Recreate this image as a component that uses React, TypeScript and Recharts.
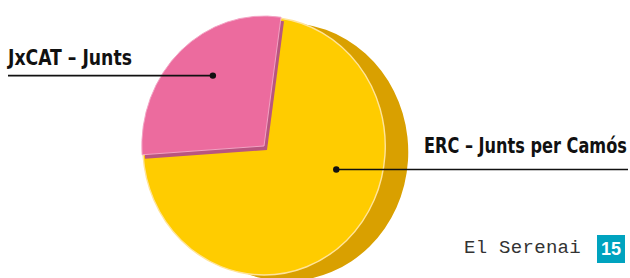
import { PieChart, Pie, Cell, Sector } from 'recharts';

// vote share (pink slice ~102 degrees)
const parties = ['JxCAT – Junts', 'ERC – Junts per Camós'];
const shares = [28.3, 71.7];

const frontColors = ['#EC6B9E', '#FFCC00'];
const depthColors = ['#B9557F', '#D9A000'];
const edgeColors = ['#F3A3C4', '#FFE49A'];

const data = parties.map((name, i) => ({ name, value: shares[i] }));

// where the callout dot sits (relative to the pie centre) and where the text goes
const callouts = [
  { angle: 126, dist: 87, lineTo: 8, textX: 8, textY: 65, textW: 124 },
  { angle: -18, dist: 76, lineTo: 628, textX: 424, textY: 153, textW: 203 },
];

const RAD = Math.PI / 180;
const labelFont = '"Liberation Sans Narrow", "DejaVu Sans Condensed", "Liberation Sans", sans-serif';
const LABEL_SIZE = 22;

const CX = 264;
const CY = 146;
const R = 129;
const SQUASH = 0.94; // disc is seen slightly from the side: a bit narrower than tall

let measureCtx: CanvasRenderingContext2D | null = null;
function textWidth(s: string) {
  if (!measureCtx) measureCtx = document.createElement('canvas').getContext('2d');
  if (!measureCtx) return s.length * LABEL_SIZE * 0.5;
  measureCtx.font = `700 ${LABEL_SIZE}px ${labelFont}`;
  return measureCtx.measureText(s).width;
}

function OvalSector(props: any) {
  const { cx, cy } = props;
  return (
    <g transform={`translate(${cx} ${cy}) scale(${SQUASH} 1) translate(${-cx} ${-cy})`}>
      <Sector {...props} />
    </g>
  );
}

function renderCallout(props: any) {
  const { cx, cy, index } = props;
  const c = callouts[index];
  const dx = cx + c.dist * Math.cos(c.angle * RAD);
  const dy = cy - c.dist * Math.sin(c.angle * RAD);
  const sx = c.textW / textWidth(parties[index]);
  return (
    <g key={`callout-${index}`}>
      <line x1={dx} y1={dy} x2={c.lineTo} y2={dy} stroke="#111" strokeWidth={1.6} />
      <circle cx={dx} cy={dy} r={3.2} fill="#111" />
      <text
        transform={`translate(${c.textX} ${c.textY}) scale(${sx} 1)`}
        fontFamily={labelFont}
        fontWeight={700}
        fontSize={LABEL_SIZE}
        fill="#111"
      >
        {parties[index]}
      </text>
    </g>
  );
}

export default function App() {
  return (
    <div style={{ position: 'absolute', left: 0, top: 0, width: 630, height: 278, background: '#fff' }}>
      <PieChart width={630} height={278} margin={{ top: 0, right: 0, bottom: 0, left: 0 }}>
        {/* extruded side of the disc */}
        <Pie data={data} dataKey="value" cx={CX + 23} cy={CY + 6} outerRadius={R} startAngle={82} endAngle={442}
          stroke="none" isAnimationActive={false} shape={OvalSector}>
          {data.map((d, i) => <Cell key={d.name} fill={i === 1 ? depthColors[1] : 'transparent'} />)}
        </Pie>
        {/* yellow top face */}
        <Pie data={data} dataKey="value" cx={CX} cy={CY} outerRadius={R} startAngle={82} endAngle={442}
          stroke="none" isAnimationActive={false} shape={OvalSector}>
          {data.map((d, i) => (
            <Cell key={d.name} fill={i === 1 ? frontColors[1] : 'transparent'}
              stroke={i === 1 ? edgeColors[1] : 'none'} strokeWidth={1.5} />
          ))}
        </Pie>
        {/* thin side of the pink wedge */}
        <Pie data={data} dataKey="value" cx={CX + 3} cy={CY + 4} outerRadius={R + 1} startAngle={82} endAngle={442}
          stroke="none" isAnimationActive={false} shape={OvalSector}>
          {data.map((d, i) => <Cell key={d.name} fill={i === 0 ? depthColors[0] : 'transparent'} />)}
        </Pie>
        {/* pink top face + callouts */}
        <Pie data={data} dataKey="value" cx={CX} cy={CY} outerRadius={R + 1} startAngle={82} endAngle={442}
          stroke="none" isAnimationActive={false} shape={OvalSector} labelLine={false} label={renderCallout}>
          {data.map((d, i) => (
            <Cell key={d.name} fill={i === 0 ? frontColors[0] : 'transparent'}
              stroke={i === 0 ? edgeColors[0] : 'none'} strokeWidth={1} />
          ))}
        </Pie>
      </PieChart>
      <div style={{ position: 'absolute', left: 464, top: 236, fontFamily: '"Liberation Mono", "DejaVu Sans Mono", monospace',
        fontSize: 19, color: '#333', letterSpacing: 0.3, lineHeight: '24px' }}>
        El Serenai
      </div>
      <div style={{ position: 'absolute', left: 597, top: 235, width: 28, height: 28, background: '#00A3BF', color: '#fff',
        fontFamily: '"Liberation Sans Narrow", "Liberation Sans", sans-serif', fontWeight: 700, fontSize: 18,
        lineHeight: '28px', textAlign: 'center' }}>
        15
      </div>
    </div>
  );
}
